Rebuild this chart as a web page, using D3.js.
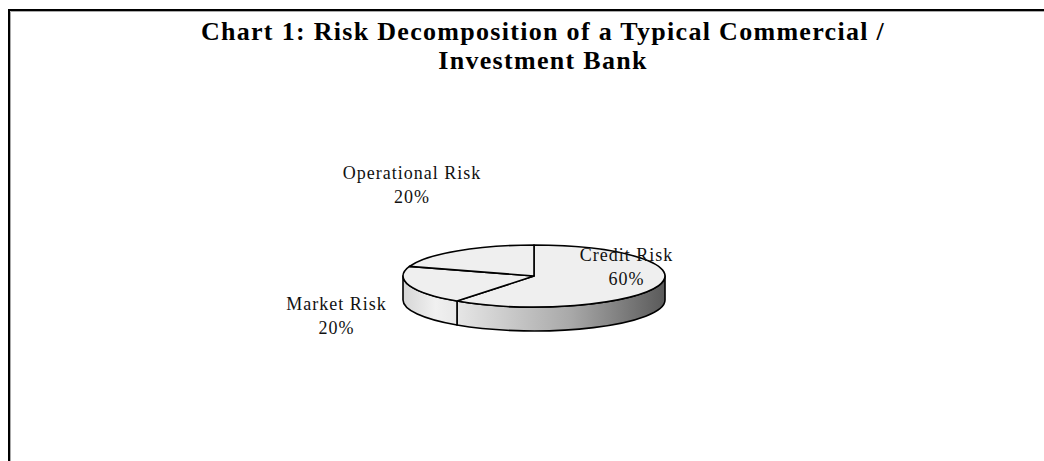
<!DOCTYPE html>
<html>
<head>
<meta charset="utf-8">
<script src="https://cdn.jsdelivr.net/npm/d3@7"></script>
<style>
  body { margin: 0; background: #fff; }
  text { font-family: "Liberation Serif", "Times New Roman", serif; }
</style>
</head>
<body>
<div id="chart"></div>
<script>
// data
const categories = ["Credit Risk", "Market Risk", "Operational Risk"];
const shares = [60, 20, 20];
const titleLines = ["Chart 1: Risk Decomposition of a Typical Commercial /", "Investment Bank"];

const W = 1044, H = 461;
const cx = 534, cy = 276, rx = 131, ry = 31, depth = 24;

// label placement relative to each slice's outer mid point
const labelOffsets = [[-32, -25], [-73, 24], [-45, -72]];

const svg = d3.select("#chart").append("svg")
    .attr("width", W).attr("height", H);

// frame
svg.append("path")
    .attr("d", "M9,461 V10 H1044")
    .attr("fill", "none").attr("stroke", "#000").attr("stroke-width", 2);
svg.append("path")
    .attr("d", "M10.5,461 V11.5 H1044")
    .attr("fill", "none").attr("stroke", "#aaa").attr("stroke-width", 1);

// title
svg.append("text")
    .attr("x", 543).attr("y", 40)
    .attr("text-anchor", "middle")
    .style("font-size", "26px").style("font-weight", "bold")
    .style("letter-spacing", "1.3px")
    .selectAll("tspan").data(titleLines).enter().append("tspan")
    .attr("x", 543).attr("dy", (d, i) => i ? 29 : 0)
    .text(d => d);

const pie = d3.pie().sort(null).value(d => d)(shares);

function pt(a, dy) {
    return [cx + rx * Math.sin(a), cy - ry * Math.cos(a) + (dy || 0)];
}

// gradients for the side walls
const defs = svg.append("defs");
const sideStops = [
    [["0%", "#e6e6e6"], ["55%", "#a8a8a8"], ["100%", "#5a5a5a"]],
    [["0%", "#d6d6d6"], ["60%", "#f0f0f0"], ["100%", "#e8e8e8"]],
    [["0%", "#e0e0e0"], ["100%", "#e0e0e0"]]
];

const sides = [];
pie.forEach((p, i) => {
    const s0 = Math.max(p.startAngle, Math.PI / 2);
    const s1 = Math.min(p.endAngle, 3 * Math.PI / 2);
    if (s0 >= s1) return;
    const g = defs.append("linearGradient")
        .attr("id", "side" + i)
        .attr("gradientUnits", "userSpaceOnUse")
        .attr("x1", pt(s1)[0]).attr("x2", pt(s0)[0])
        .attr("y1", 0).attr("y2", 0);
    g.selectAll("stop").data(sideStops[i]).enter().append("stop")
        .attr("offset", d => d[0]).attr("stop-color", d => d[1]);
    sides.push({ i: i, s0: s0, s1: s1 });
});

function sidePath(d) {
    const a = pt(d.s0), b = pt(d.s1), c = pt(d.s1, depth), e = pt(d.s0, depth);
    const large = d.s1 - d.s0 > Math.PI ? 1 : 0;
    return "M" + a + " A" + rx + "," + ry + " 0 " + large + " 1 " + b +
        " L" + c + " A" + rx + "," + ry + " 0 " + large + " 0 " + e + " Z";
}

function topPath(p) {
    const a = pt(p.startAngle), b = pt(p.endAngle);
    const large = p.endAngle - p.startAngle > Math.PI ? 1 : 0;
    return "M" + cx + "," + cy + " L" + a + " A" + rx + "," + ry + " 0 " + large + " 1 " + b + " Z";
}

svg.selectAll(".side").data(sides).enter().append("path")
    .attr("class", "side")
    .attr("d", sidePath)
    .attr("fill", d => "url(#side" + d.i + ")")
    .attr("stroke", "#000").attr("stroke-width", 1.6)
    .attr("stroke-linejoin", "round");

svg.selectAll(".top").data(pie).enter().append("path")
    .attr("class", "top")
    .attr("d", topPath)
    .attr("fill", "#efefef")
    .attr("stroke", "#000").attr("stroke-width", 1.6)
    .attr("stroke-linejoin", "round");

// labels
const lab = svg.selectAll(".lbl").data(pie).enter().append("text")
    .attr("class", "lbl")
    .attr("text-anchor", "middle")
    .style("font-size", "18px")
    .style("letter-spacing", "1px")
    .attr("fill", "#111");
lab.each(function (p, i) {
    const m = pt((p.startAngle + p.endAngle) / 2);
    const x = m[0] + labelOffsets[i][0], y = m[1] + labelOffsets[i][1];
    const t = d3.select(this);
    t.append("tspan").attr("x", x).attr("y", y).text(categories[i]);
    t.append("tspan").attr("x", x).attr("dy", 24).text(shares[i] + "%");
});
</script>
</body>
</html>
